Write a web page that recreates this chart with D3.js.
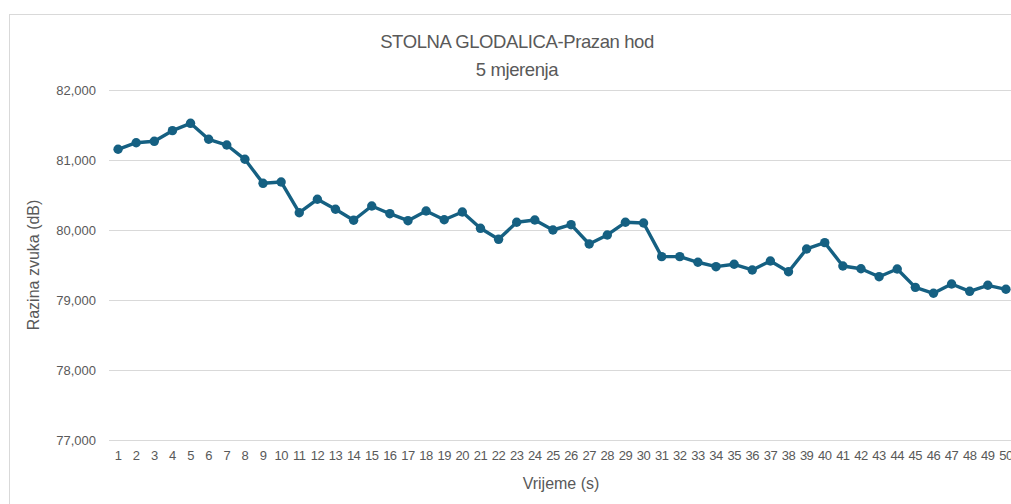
<!DOCTYPE html>
<html>
<head>
<meta charset="utf-8">
<script src="https://cdn.jsdelivr.net/npm/d3@7"></script>
<style>
  body { margin: 0; background: #fff; }
  svg { display: block; font-family: "Liberation Sans", Arial, sans-serif; }
</style>
</head>
<body>
<div class="chart"></div>
<script>
// seconds on x axis
const seconds = d3.range(1, 51);
// measured noise level (dB)
const levels = [
  81153, 81247, 81267, 81419, 81524, 81296, 81214, 81010, 80667, 80686,
  80247, 80439, 80296, 80139, 80343, 80233, 80133, 80271, 80147, 80257,
  80024, 79867, 80110, 80143, 80000, 80076, 79800, 79929, 80110, 80100,
  79619, 79619, 79539, 79476, 79510, 79429, 79557, 79404, 79729, 79819,
  79486, 79447, 79333, 79443, 79181, 79096, 79229, 79124, 79210, 79153
];
const yTicks = [77000, 78000, 79000, 80000, 81000, 82000];
const titleLines = ["STOLNA GLODALICA-Prazan hod", "5 mjerenja"];
const xTitle = "Vrijeme (s)";
const yTitle = "Razina zvuka (dB)";

const w = 1011;
const h = 504;
const plotLeft = 109;
const plotRight = 1015;
const plotTop = 90;
const plotBottom = 440;
const textColor = "#595959";
const lineColor = "#156082";

const svg = d3.select(".chart").append("svg").attr("width", w).attr("height", h);

// chart frame
svg.append("rect")
  .attr("x", 9.5).attr("y", 14.5)
  .attr("width", 1100).attr("height", 600)
  .attr("fill", "#fff")
  .attr("stroke", "#d9d9d9");

const xScale = d3.scaleBand().domain(seconds).range([plotLeft, plotRight]);
const yScale = d3.scaleLinear().domain([77000, 82000]).range([plotBottom, plotTop]);

// gridlines
svg.append("g")
  .selectAll("line")
  .data(yTicks)
  .enter()
  .append("line")
  .attr("x1", plotLeft).attr("x2", plotRight)
  .attr("y1", (d) => Math.round(yScale(d)) + 0.5)
  .attr("y2", (d) => Math.round(yScale(d)) + 0.5)
  .attr("stroke", "#d9d9d9")
  .attr("stroke-width", 1);

// y axis
const yAxis = d3.axisLeft(yScale).tickValues(yTicks).tickFormat(d3.format(",")).tickSize(0).tickPadding(13);
const gy = svg.append("g").attr("transform", "translate(" + plotLeft + ",0)").call(yAxis);
gy.select(".domain").remove();
gy.selectAll("text").attr("fill", textColor).style("font-size", "13px");

// x axis
const xAxis = d3.axisBottom(xScale).tickSize(0).tickPadding(11);
const gx = svg.append("g").attr("transform", "translate(0," + plotBottom + ")").call(xAxis);
gx.select(".domain").remove();
gx.selectAll("text").attr("fill", textColor).style("font-size", "13px").style("letter-spacing", "-0.5px");

const cx = (d, i) => xScale(seconds[i]) + xScale.bandwidth() / 2;

const line = d3.line()
  .x((d, i) => cx(d, i))
  .y((d) => yScale(d));

svg.append("path")
  .datum(levels)
  .attr("d", line)
  .attr("fill", "none")
  .attr("stroke", lineColor)
  .attr("stroke-width", 3.4)
  .attr("stroke-linejoin", "round");

svg.append("g")
  .selectAll("circle")
  .data(levels)
  .enter()
  .append("circle")
  .attr("cx", cx)
  .attr("cy", (d) => yScale(d))
  .attr("r", 4.7)
  .attr("fill", lineColor);

// titles
svg.append("g")
  .selectAll("text")
  .data(titleLines)
  .enter()
  .append("text")
  .attr("x", 517)
  .attr("y", (d, i) => 48 + i * 28)
  .attr("text-anchor", "middle")
  .attr("fill", textColor)
  .style("font-size", "18.5px")
  .style("letter-spacing", "-0.4px")
  .text((d) => d);

svg.append("text")
  .attr("x", 561)
  .attr("y", 489)
  .attr("text-anchor", "middle")
  .attr("fill", textColor)
  .style("font-size", "16px")
  .text(xTitle);

svg.append("text")
  .attr("transform", "translate(39,265) rotate(-90)")
  .attr("text-anchor", "middle")
  .attr("fill", textColor)
  .style("font-size", "16px")
  .text(yTitle);
</script>
</body>
</html>
